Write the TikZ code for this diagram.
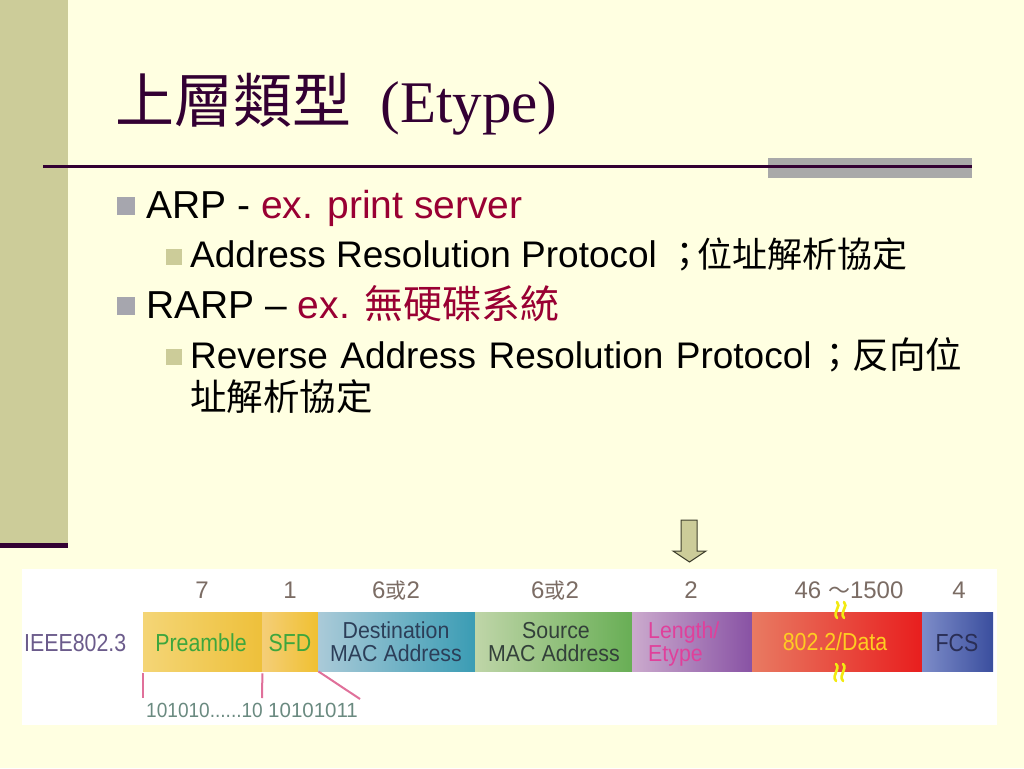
\documentclass[tikz,border=0pt]{standalone}
\usepackage{fontspec}
\setmainfont{Liberation Sans}
\newfontfamily\cjk{Noto Sans CJK TC}
\newfontfamily\tnr{Liberation Serif}
\definecolor{bg}{HTML}{FFFFE1}
\definecolor{olive}{HTML}{CCCC99}
\definecolor{plum}{HTML}{330033}
\definecolor{bargrey}{HTML}{A9A9A9}
\definecolor{bulgrey}{HTML}{A6A6AE}
\definecolor{exred}{HTML}{990033}
\definecolor{numc}{HTML}{7B6C64}
\definecolor{ieee}{HTML}{6B5B8B}
\definecolor{pinkln}{HTML}{E0709A}
\definecolor{bitc}{HTML}{6A8A80}
\definecolor{preL}{HTML}{F4D576}
\definecolor{preR}{HTML}{EEC03A}
\definecolor{sfdL}{HTML}{F4CE78}
\definecolor{sfdR}{HTML}{F0C030}
\definecolor{dstL}{HTML}{AACAD8}
\definecolor{dstR}{HTML}{3A9CB4}
\definecolor{srcL}{HTML}{BFD5A8}
\definecolor{srcR}{HTML}{68AE55}
\definecolor{lenL}{HTML}{CBAACD}
\definecolor{lenR}{HTML}{8852A4}
\definecolor{datL}{HTML}{E87A62}
\definecolor{datR}{HTML}{E81E1E}
\definecolor{fcsL}{HTML}{7D8CC8}
\definecolor{fcsR}{HTML}{3A4E9E}
\definecolor{greentx}{HTML}{3DA63D}
\definecolor{dsttx}{HTML}{2C3E58}
\definecolor{srctx}{HTML}{33403A}
\definecolor{lentx}{HTML}{E0409B}
\definecolor{dattx}{HTML}{FFCC22}
\definecolor{fcstx}{HTML}{2A2E55}
\definecolor{squig}{HTML}{F2EA10}
\definecolor{arrowedge}{HTML}{40402E}
\newcommand\fLone{\fontsize{39}{44}\selectfont}
\newcommand\fLtwo{\fontsize{37}{40}\selectfont}
\newcommand\fCJKtwo{\cjk\fontsize{35}{40}\selectfont}
\newcommand\fNum{\fontsize{24}{26}\selectfont}
\newcommand\fLbl{\fontsize{22}{24}\selectfont}
\newcommand\fBit{\fontsize{20.5}{22}\selectfont}
\newcommand\tallstr[1]{\scalebox{0.97}[1.12]{#1}}
\newcommand\tallpair[1]{\scalebox{0.97}[1.05]{#1}}
\tikzset{
  l1bul/.style={fill=bulgrey, minimum size=18pt, inner sep=0pt},
  l2bul/.style={fill=olive, minimum size=16pt, inner sep=0pt},
  txt/.style={anchor=base west, inner sep=0pt},
  num/.style={anchor=base, inner sep=0pt, text=numc, font=\fNum},
  lbl/.style={anchor=base, inner sep=0pt, font=\fLbl},
  fbox/.style={anchor=north west, inner sep=0pt, minimum height=59pt},
  pinkline/.style={draw=pinkln, line width=2pt},
  squigline/.style={draw=squig, line width=2.6pt, line cap=round}
}
\begin{document}
\begin{tikzpicture}[x=1pt,y=-1pt]
\useasboundingbox (0,0) rectangle (1024,768);
\fill[bg] (0,0) rectangle (1024,768);
% left bar
\fill[olive] (0,0) rectangle (68,543);
\fill[plum] (0,543) rectangle (68,548);
% title rule
\fill[bargrey] (768,158) rectangle (972,178);
\draw[plum, line width=3pt] (43,166) -- (972,166);
% title
\node[txt, text=plum] (title) at (115,122)
  {\fontsize{59}{60}\selectfont{\cjk 上層類型}{\tnr\ \ (Etype)}};
% bullets
\node[l1bul] (b1) at (126,206) {};
\node[txt, font=\fLone] (t1) at (146,218) {ARP - \textcolor{exred}{ex. print server}};
\node[l2bul] (b2) at (174,257) {};
\node[txt, font=\fLtwo] (t2) at (190,267) {Address Resolution Protocol\hspace{10pt}{\fCJKtwo\makebox[30pt][l]{；}位址解析協定}};
\node[l1bul] (b3) at (126,306) {};
\node[txt, font=\fLone] (t3) at (146,318) {RARP – \textcolor{exred}{ex. {\cjk 無硬碟系統}}};
\node[l2bul] (b4) at (174,357) {};
\node[txt, font=\fLtwo] (t4) at (190,368) {\makebox[772pt][s]{Reverse Address Resolution Protocol\hspace{6pt}{\fCJKtwo ；}{\cjk\fontsize{36.5}{40}\selectfont 反向位}}};
\node[txt, font=\fLtwo] (t5) at (190,410) {{\cjk\fontsize{36.5}{40}\selectfont 址解析協定}};
% down arrow
\filldraw[fill=olive, draw=arrowedge, line width=1pt, line join=miter]
  (681,520) -- (697,520) -- (697,551) -- (706,551) -- (689.5,562) -- (673,551) -- (681,551) -- cycle;
% frame panel
\fill[white] (22,569) rectangle (997,725);
% field boxes
\node[fbox, minimum width=119pt, left color=preL, right color=preR] (pre) at (143,612) {};
\node[fbox, minimum width=56pt, left color=sfdL, right color=sfdR] (sfd) at (262,612) {};
\node[fbox, minimum width=157pt, left color=dstL, right color=dstR] (dst) at (318,612) {};
\node[fbox, minimum width=157pt, left color=srcL, right color=srcR] (src) at (475,612) {};
\node[fbox, minimum width=120pt, left color=lenL, right color=lenR] (len) at (632,612) {};
\node[fbox, minimum width=170pt, left color=datL, right color=datR] (dat) at (752,612) {};
\node[fbox, minimum width=71pt, left color=fcsL, right color=fcsR] (fcs) at (922,612) {};
% size numbers
\node[num] (n1) at (202,598.5) {7};
\node[num] (n2) at (290,598.5) {1};
\node[num] (n3) at (396,598.5) {6{\cjk\fontsize{21}{24}\selectfont 或}2};
\node[num] (n4) at (555,598.5) {6{\cjk\fontsize{21}{24}\selectfont 或}2};
\node[num] (n5) at (691,598.5) {2};
\node[num] (n6) at (849,598.5) {46 {\cjk\fontsize{22}{24}\selectfont ～}1500};
\node[num] (n7) at (959,598.5) {4};
% labels
\node[txt, font=\fLbl, text=ieee] (ieee) at (24,651) {\tallstr{IEEE802.3}};
\node[lbl, text=greentx] (lpre) at (201,651) {\tallstr{Preamble}};
\node[lbl, text=greentx] (lsfd) at (290,651) {\tallstr{SFD}};
\node[lbl, text=dsttx] (ldst1) at (396,638.5) {\tallpair{Destination}};
\node[lbl, text=dsttx] (ldst2) at (396,661) {\tallpair{MAC Address}};
\node[lbl, text=srctx] (lsrc1) at (556,638.5) {\tallpair{Source}};
\node[lbl, text=srctx] (lsrc2) at (554,661) {\tallpair{MAC Address}};
\node[txt, font=\fLbl, text=lentx] (llen1) at (648,638.5) {\tallpair{Length/}};
\node[txt, font=\fLbl, text=lentx] (llen2) at (648,661) {\tallpair{Etype}};
\node[lbl, text=dattx] (ldat) at (835,650) {\tallstr{802.2/Data}};
\node[lbl, text=fcstx] (lfcs) at (957,651) {\tallstr{FCS}};
% squiggles in data field
\draw[squigline] (837,602) .. controls (842,606) and (832,612) .. (837,618);
\draw[squigline] (844,602) .. controls (849,606) and (839,612) .. (844,618);
\draw[squigline] (836,664) .. controls (841,669) and (831,675) .. (836,681);
\draw[squigline] (843,664) .. controls (848,669) and (838,675) .. (843,681);
% preamble / SFD bit patterns
\coordinate (p1) at (143,698);
\coordinate (p2) at (262,698);
\coordinate (p3) at (360,699);
\draw[pinkline] ([yshift=-2pt]pre.south west) -- (p1);
\draw[pinkline] ([yshift=-2pt]pre.south east) -- (p2);
\draw[pinkline] (sfd.south east) -- (p3);
\node[txt, font=\fBit, text=bitc] (bits1) at (146,717) {\scalebox{0.93}[1]{101010......10}};
\node[txt, font=\fBit, text=bitc] (bits2) at (268,717) {10101011};
\end{tikzpicture}
\end{document}
